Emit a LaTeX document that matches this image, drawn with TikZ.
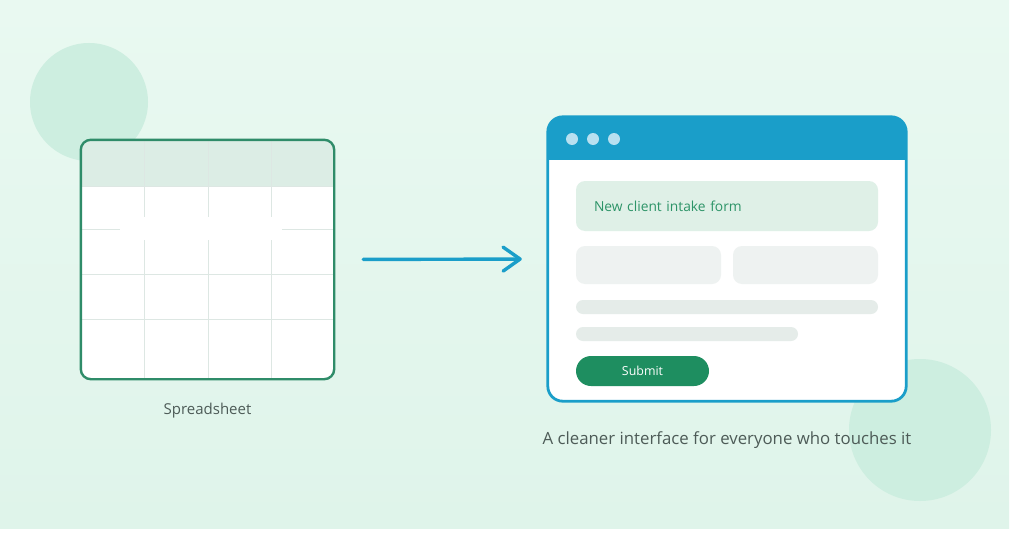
\documentclass[tikz,border=0pt]{standalone}
\usepackage{fontspec}
\setmainfont{Open Sans}
\usetikzlibrary{arrows.meta,positioning}
\definecolor{bgtop}{HTML}{E9F9F1}
\definecolor{bgbot}{HTML}{DFF4EA}
\definecolor{blobcol}{HTML}{CDEEE0}
\definecolor{sheetgreen}{HTML}{2F8C69}
\definecolor{headcol}{HTML}{DCEDE5}
\definecolor{gridcol}{HTML}{DDE7E3}
\definecolor{winblue}{HTML}{1A9EC9}
\definecolor{dotcol}{HTML}{B8E0F0}
\definecolor{intakefill}{HTML}{DFF0E7}
\definecolor{intaketext}{HTML}{2D9468}
\definecolor{fieldcol}{HTML}{EEF2F1}
\definecolor{barcol}{HTML}{E5ECE9}
\definecolor{submitcol}{HTML}{1E8E60}
\definecolor{captext}{HTML}{4D5B57}

\tikzset{
  blob/.style={fill=blobcol},
  gridline/.style={draw=gridcol, line width=1pt},
  sheetbox/.style={rectangle, rounded corners=10pt, fill=white,
    minimum width=253pt, minimum height=239pt, inner sep=0pt},
  winbox/.style={rectangle, rounded corners=15pt, fill=white,
    minimum width=358pt, minimum height=284pt, inner sep=0pt},
  formfield/.style={rectangle, rounded corners=9pt, fill=fieldcol,
    minimum height=38pt, minimum width=145pt, inner sep=0pt},
  formbar/.style={rectangle, rounded corners=7pt, fill=barcol,
    minimum height=14pt, inner sep=0pt},
  caption/.style={text=captext, inner sep=0pt},
}

\begin{document}
\begin{tikzpicture}[x=1pt, y=-1pt]
\useasboundingbox (0,0) rectangle (1024,543);
\fill[white] (0,0) rectangle (1024,543);
\shade[top color=bgtop, bottom color=bgbot] (0,0) rectangle (1009,528);

% soft circles
\fill[blob] (89,102) circle (59);
\fill[blob] (920,430) circle (71);

% spreadsheet
\node[sheetbox] (sheet) at (207.5,259.5) {};
\begin{scope}
\clip[rounded corners=10pt] (sheet.north west) rectangle (sheet.south east);
\fill[headcol] (sheet.north west) rectangle (334,186);
\foreach \x in {144,208,271}
  \draw[gridline] (\x,140) -- (\x,379);
\foreach \y in {186,229,274,319}
  \draw[gridline] (81,\y) -- (334,\y);
\fill[white] (120,217) rectangle (282,240);
\end{scope}
\draw[sheetgreen, line width=2.4pt, rounded corners=10pt]
  (sheet.north west) rectangle (sheet.south east);
\node[caption, font=\fontsize{15}{17}\selectfont, below=24pt of sheet] (sheetcap) {Spreadsheet};

% window
\node[winbox] (win) at (727,259) {};
\begin{scope}
\clip[rounded corners=15pt] (win.north west) rectangle (win.south east);
\fill[winblue] (win.north west) rectangle (906,160);
\end{scope}
\draw[winblue, line width=2.8pt, rounded corners=15pt]
  (win.north west) rectangle (win.south east);
\foreach \x in {572,593,614}
  \fill[dotcol] (\x,139) circle (6);

\node[formfield, fill=intakefill, minimum width=302pt, minimum height=50pt,
  text width=266pt, align=left, inner xsep=18pt, text=intaketext,
  font=\fontsize{13.8}{16}\selectfont] (intake) at (727,206) {New client intake form};
\node[formfield] (first) at (648.5,265) {};
\node[formfield] (second) at (805.5,265) {};
\node[formbar, minimum width=302pt] (barone) at (727,307) {};
\node[formbar, minimum width=222pt] (bartwo) at (687,334) {};
\node[rectangle, rounded corners=15pt, fill=submitcol, minimum width=133pt,
  minimum height=30pt, text=white, font=\fontsize{12.4}{14}\selectfont] (submit) at (642.5,371) {Submit};
\node[caption, font=\fontsize{16.8}{20}\selectfont, below=30pt of win] (wincap)
  {A cleaner interface for everyone who touches it};

% arrow
\draw[winblue, line width=3.4pt, line cap=round,
  -{Straight Barb[length=17pt, width=24pt, round]},
  shorten <=29pt, shorten >=26pt] (sheet.east) -- (win.west);
\end{tikzpicture}
\end{document}
